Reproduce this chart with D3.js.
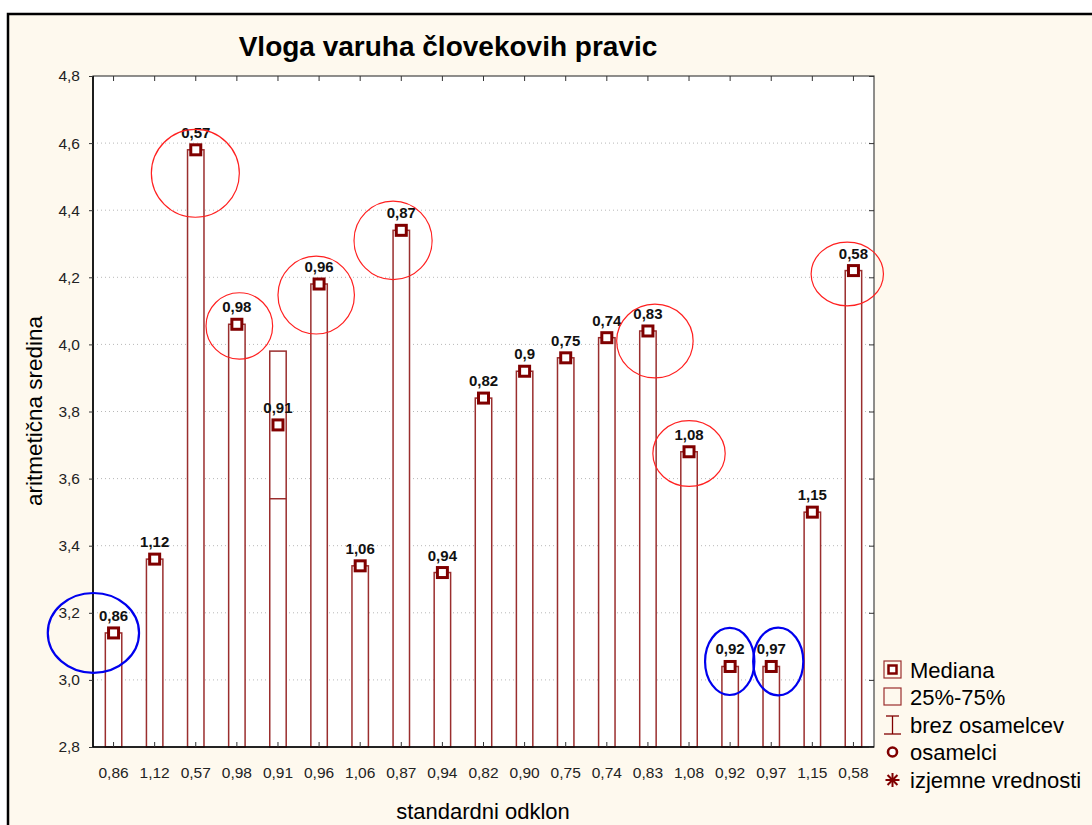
<!DOCTYPE html>
<html>
<head>
<meta charset="utf-8">
<script src="https://cdn.jsdelivr.net/npm/d3@7"></script>
<style>
    body { margin: 0; background: #ffffff; }
    svg { display: block; font-family: Arial, "Liberation Sans", sans-serif; }
</style>
</head>
<body>
<svg id="chart" width="1092" height="825"></svg>
<script>
// categories = standard deviation of each item
let categories = ["0,86","1,12","0,57","0,98","0,91","0,96","1,06","0,87","0,94","0,82","0,90","0,75","0,74","0,83","1,08","0,92","0,97","1,15","0,58"];
let point_labels = ["0,86","1,12","0,57","0,98","0,91","0,96","1,06","0,87","0,94","0,82","0,9","0,75","0,74","0,83","1,08","0,92","0,97","1,15","0,58"];
let medians = [3.14,3.36,4.58,4.06,3.76,4.18,3.34,4.34,3.32,3.84,3.92,3.96,4.02,4.04,3.68,3.04,3.04,3.50,4.22];
let box_top = [3.14,3.36,4.58,4.06,3.98,4.18,3.34,4.34,3.32,3.84,3.92,3.96,4.02,4.04,3.68,3.04,3.04,3.50,4.22];
let box_bottom = [null,null,null,null,3.54,null,null,null,null,null,null,null,null,null,null,null,null,null,null];
let y_ticks = [2.8,3.0,3.2,3.4,3.6,3.8,4.0,4.2,4.4,4.6,4.8];

// hand drawn marks: category index, shift (bands), centre value, radius x (bands), radius y (value)
let red_circles = [
    [2,-0.01,4.51,1.07,0.131],
    [3,0.06,4.055,0.81,0.099],
    [5,-0.07,4.147,0.93,0.116],
    [7,-0.2,4.31,0.95,0.117],
    [13,0.17,4.01,0.93,0.11],
    [14,0,3.675,0.88,0.098],
    [18,-0.15,4.21,0.88,0.095]
];
let blue_circles = [
    [0,-0.49,3.14,1.11,0.119],
    [15,-0.01,3.055,0.6,0.1],
    [16,0.17,3.055,0.61,0.101]
];
let legend_items = ["Mediana","25%-75%","brez osamelcev","osamelci","izjemne vrednosti"];

let dark_red = "#800000";
let bar_red = "#9a2e2e";

let svg = d3.select("#chart");
let plot = {left: 93, right: 874, top: 76, bottom: 747};

// outer panel
svg.append("rect").attr("x",8).attr("y",14).attr("width",1200).attr("height",900)
    .style("fill","#fef9ee").style("stroke","#000").style("stroke-width",2.5);
svg.append("rect").attr("x",plot.left).attr("y",plot.top)
    .attr("width",plot.right-plot.left).attr("height",plot.bottom-plot.top)
    .style("fill","#ffffff");

let x = d3.scaleBand().domain(d3.range(categories.length)).range([plot.left, plot.right]);
let y = d3.scaleLinear().domain([2.8,4.8]).range([plot.bottom, plot.top]);
let bw = x.bandwidth();
let cx = i => x(i) + bw/2;

// grid
svg.append("g").selectAll("line")
    .data(y_ticks.filter(d => d > 2.8 && d < 4.8))
    .enter().append("line")
    .attr("x1",plot.left).attr("x2",plot.right)
    .attr("y1",d => y(d)).attr("y2",d => y(d))
    .style("stroke","#b8b8b8").style("stroke-dasharray","1,3");

// bars (box from axis up to 75%)
let bar_w = bw*0.4;
let bars = svg.append("g");
bars.selectAll("rect")
    .data(d3.range(categories.length))
    .enter().append("rect")
    .attr("x",i => cx(i) - bar_w/2)
    .attr("y",i => y(box_top[i]))
    .attr("width",bar_w)
    .attr("height",i => plot.bottom - y(box_top[i]))
    .style("fill","#fff").style("stroke",bar_red).style("stroke-width",1.5);
bars.selectAll("line")
    .data(d3.range(categories.length).filter(i => box_bottom[i] != null))
    .enter().append("line")
    .attr("x1",i => cx(i) - bar_w/2).attr("x2",i => cx(i) + bar_w/2)
    .attr("y1",i => y(box_bottom[i])).attr("y2",i => y(box_bottom[i]))
    .style("stroke",bar_red).style("stroke-width",1.5);

// axes frame
let frame = svg.append("g").style("stroke","#444").style("fill","none");
frame.append("rect").attr("x",plot.left).attr("y",plot.top)
    .attr("width",plot.right-plot.left).attr("height",plot.bottom-plot.top)
    .style("stroke-width",1.2);
frame.append("line").attr("x1",plot.left).attr("x2",plot.left)
    .attr("y1",plot.top).attr("y2",plot.bottom).style("stroke","#000").style("stroke-width",1.6);
frame.append("line").attr("x1",plot.left).attr("x2",plot.right)
    .attr("y1",plot.bottom).attr("y2",plot.bottom).style("stroke","#000").style("stroke-width",1.6);

let yAxis = svg.append("g").attr("transform","translate(" + plot.left + ",0)")
    .call(d3.axisLeft(y).tickValues(y_ticks).tickSize(4).tickPadding(9)
        .tickFormat(d => d3.format(".1f")(d).replace(".",",")));
svg.append("g").attr("transform","translate(" + plot.right + ",0)")
    .call(d3.axisLeft(y).tickValues(y_ticks).tickSize(5).tickFormat(""));
svg.append("g").attr("transform","translate(0," + plot.bottom + ")")
    .call(d3.axisTop(x).tickSize(5).tickFormat(""));
svg.append("g").attr("transform","translate(0," + plot.top + ")")
    .call(d3.axisBottom(x).tickSize(5).tickFormat(""));
svg.selectAll(".domain").remove();
svg.selectAll(".tick line").style("stroke","#333");
yAxis.selectAll("text").style("font-size","15.5px").style("fill","#222");

// x tick labels
svg.append("g").selectAll("text")
    .data(categories)
    .enter().append("text")
    .attr("x",(d,i) => cx(i)).attr("y",778)
    .style("text-anchor","middle").style("font-size","15.5px").style("fill","#222")
    .text(d => d);

// median markers
svg.append("g").selectAll("rect")
    .data(medians)
    .enter().append("rect")
    .attr("x",(d,i) => cx(i) - 5).attr("y",d => y(d) - 5)
    .attr("width",10).attr("height",10)
    .style("fill","#fff").style("stroke",dark_red).style("stroke-width",3);

// point labels
svg.append("g").selectAll("text")
    .data(point_labels)
    .enter().append("text")
    .attr("x",(d,i) => cx(i)).attr("y",(d,i) => y(medians[i]) - 12)
    .style("text-anchor","middle").style("font-size","15px").style("font-weight","bold").style("fill","#111")
    .text(d => d);

// circled items
function draw_rings(data, colour, width){
    svg.append("g").selectAll("ellipse")
        .data(data)
        .enter().append("ellipse")
        .attr("cx",d => cx(d[0]) + d[1]*bw)
        .attr("cy",d => y(d[2]))
        .attr("rx",d => d[3]*bw)
        .attr("ry",d => Math.abs(y(d[2]-d[4]) - y(d[2])))
        .style("fill","none").style("stroke",colour).style("stroke-width",width);
}
draw_rings(red_circles,"#ff2020",1.2);
draw_rings(blue_circles,"#0000ee",2.2);

// title and axis titles
svg.append("text").attr("x",448).attr("y",56)
    .style("text-anchor","middle").style("font-size","28px").style("font-weight","bold").style("fill","#000")
    .text("Vloga varuha človekovih pravic");
svg.append("text")
    .attr("transform","translate(42,411) rotate(-90)")
    .style("text-anchor","middle").style("font-size","22.5px").style("fill","#000")
    .text("aritmetična sredina");
svg.append("text").attr("x",483).attr("y",819)
    .style("text-anchor","middle").style("font-size","22px").style("fill","#000")
    .text("standardni odklon");

// legend
let legend = svg.append("g").attr("transform","translate(883,0)");
let ly = [670,697,725,752,780];
legend.selectAll("text")
    .data(legend_items)
    .enter().append("text")
    .attr("x",27).attr("y",(d,i) => ly[i] + 7.5)
    .style("font-size","22px").style("fill","#000")
    .text(d => d);
legend.append("rect").attr("x",1).attr("y",ly[0]-9).attr("width",17).attr("height",17)
    .style("fill","none").style("stroke",bar_red).style("stroke-width",1.2);
legend.append("rect").attr("x",5.5).attr("y",ly[0]-4.5).attr("width",8).attr("height",8)
    .style("fill","#fff").style("stroke",dark_red).style("stroke-width",2.5);
legend.append("rect").attr("x",1).attr("y",ly[1]-9).attr("width",17).attr("height",17)
    .style("fill","none").style("stroke",bar_red).style("stroke-width",1.2);
let wh = legend.append("g").style("stroke",dark_red).style("stroke-width",1.3);
wh.append("line").attr("x1",9.5).attr("x2",9.5).attr("y1",ly[2]-9).attr("y2",ly[2]+9);
wh.append("line").attr("x1",3).attr("x2",16).attr("y1",ly[2]-9).attr("y2",ly[2]-9);
wh.append("line").attr("x1",1).attr("x2",18).attr("y1",ly[2]+9).attr("y2",ly[2]+9);
legend.append("circle").attr("cx",9.5).attr("cy",ly[3]).attr("r",4.5)
    .style("fill","#fff").style("stroke",dark_red).style("stroke-width",2.6);
let star = legend.append("g").attr("transform","translate(9.5," + ly[4] + ")")
    .style("stroke",dark_red).style("stroke-width",2);
[0,45,90,135].forEach(a => {
    let r = 7, t = a*Math.PI/180;
    star.append("line").attr("x1",-r*Math.sin(t)).attr("y1",-r*Math.cos(t))
        .attr("x2",r*Math.sin(t)).attr("y2",r*Math.cos(t));
});
</script>
</body>
</html>
